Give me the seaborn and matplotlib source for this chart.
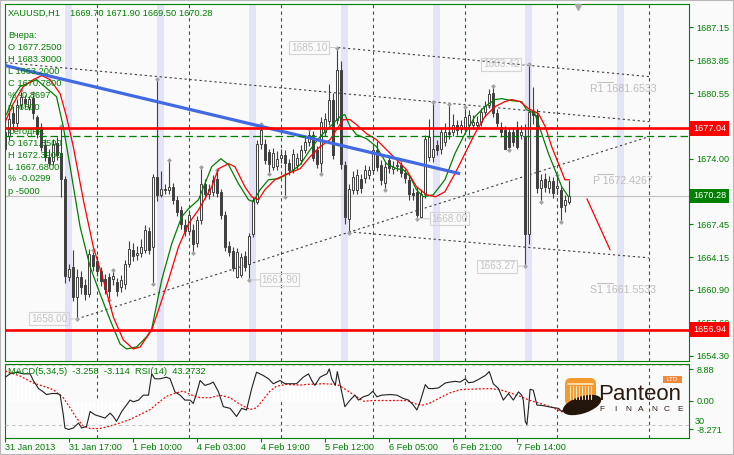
import numpy as np
import pandas as pd
import matplotlib
matplotlib.use("Agg")
import matplotlib.pyplot as plt
from matplotlib.patches import Rectangle, FancyBboxPatch, Ellipse
import seaborn as sns

# ------------------------------------------------------------------ data
open_ = [1675.0, 1676.3, 1678.6, 1677.6, 1679.4, 1680.0, 1679.2, 1680.1, 1678.2, 1677.2,
         1675.4, 1674.2, 1673.8, 1675.6, 1674.6, 1672.0, 1662.2, 1663.2, 1660.2, 1662.2,
         1661.4, 1660.5, 1664.4, 1663.8, 1662.8, 1662.0, 1662.2, 1662.0, 1661.7, 1661.2,
         1661.5, 1663.5, 1664.9, 1664.4, 1664.6, 1664.9, 1666.8, 1665.2, 1672.2, 1670.4,
         1671.0, 1670.9, 1671.2, 1669.9, 1668.9, 1667.4, 1666.8, 1666.9, 1665.6, 1667.9,
         1671.5, 1670.5, 1670.7, 1672.0, 1670.7, 1668.4, 1665.3, 1664.8, 1662.2, 1662.4,
         1664.3, 1663.5, 1666.5, 1669.7, 1675.5, 1675.5, 1674.7, 1673.2, 1673.3, 1674.1,
         1674.4, 1673.6, 1673.0, 1673.4, 1673.9, 1674.9, 1675.7, 1676.4, 1674.9, 1673.6,
         1676.7, 1677.8, 1679.9, 1677.9, 1682.9, 1673.4, 1668.0, 1670.9, 1670.9, 1672.0,
         1672.1, 1672.4, 1672.9, 1674.9, 1673.4, 1671.6, 1673.9, 1673.0, 1673.3, 1673.4,
         1672.6, 1671.9, 1670.6, 1670.7, 1668.2, 1670.5, 1674.2, 1674.2, 1675.4, 1675.0,
         1675.7, 1676.7, 1676.7, 1677.4, 1677.0, 1677.2, 1677.4, 1677.4, 1677.4, 1677.7,
         1678.7, 1679.4, 1680.6, 1678.6, 1677.2, 1676.9, 1676.7, 1676.7, 1677.0, 1676.4,
         1676.2, 1666.5, 1678.8, 1678.4, 1671.1, 1672.0, 1671.1, 1671.8, 1671.1, 1670.9,
         1669.4, 1669.70]
high = [1678.2, 1678.7, 1679.3, 1680.0, 1680.9, 1680.4, 1680.3, 1680.6, 1678.4, 1677.6,
        1676.0, 1675.0, 1676.0, 1676.2, 1677.3, 1672.3, 1663.5, 1664.9, 1663.0, 1662.8,
        1662.0, 1665.0, 1664.9, 1664.3, 1663.2, 1662.5, 1662.6, 1662.9, 1662.1, 1662.4,
        1663.9, 1665.8, 1665.6, 1665.3, 1666.0, 1667.4, 1667.2, 1672.5, 1682.0, 1672.8,
        1671.5, 1673.9, 1671.6, 1670.3, 1669.3, 1668.0, 1668.9, 1667.5, 1668.3, 1673.2,
        1672.0, 1671.5, 1672.4, 1672.9, 1671.0, 1668.8, 1665.8, 1665.2, 1665.1, 1664.6,
        1664.8, 1666.6, 1670.2, 1675.9, 1677.5, 1676.0, 1675.0, 1675.1, 1674.8, 1675.0,
        1674.9, 1674.0, 1675.0, 1674.6, 1675.4, 1676.2, 1677.0, 1676.8, 1675.3, 1678.2,
        1678.6, 1681.5, 1680.6, 1685.1, 1683.8, 1673.8, 1671.5, 1672.8, 1673.0, 1672.5,
        1673.4, 1673.3, 1675.3, 1675.8, 1673.9, 1673.7, 1674.4, 1673.8, 1673.8, 1673.9,
        1673.0, 1672.3, 1671.1, 1671.2, 1671.0, 1676.4, 1678.0, 1679.7, 1675.9, 1677.2,
        1677.6, 1679.5, 1678.5, 1677.9, 1677.9, 1679.2, 1678.9, 1678.4, 1678.3, 1679.1,
        1679.8, 1681.0, 1681.3, 1679.0, 1677.7, 1677.3, 1677.1, 1677.2, 1677.8, 1677.4,
        1677.5, 1683.42, 1681.2, 1679.0, 1672.5, 1672.6, 1672.3, 1672.2, 1672.39, 1671.2,
        1670.4, 1671.90]
low = [1674.9, 1675.9, 1676.8, 1677.2, 1679.0, 1679.1, 1678.9, 1678.0, 1676.1, 1674.8,
       1673.8, 1673.3, 1673.4, 1673.9, 1670.2, 1661.6, 1661.8, 1659.8, 1658.0, 1660.5,
       1659.9, 1660.2, 1662.8, 1662.3, 1661.3, 1660.5, 1659.9, 1661.4, 1660.3, 1660.7,
       1661.0, 1663.2, 1663.8, 1663.9, 1664.2, 1664.6, 1664.5, 1661.5, 1669.8, 1670.2,
       1670.5, 1670.5, 1669.5, 1668.3, 1667.0, 1666.3, 1666.4, 1664.6, 1665.2, 1667.5,
       1670.0, 1670.0, 1670.3, 1670.2, 1668.0, 1664.8, 1664.3, 1662.8, 1662.1, 1662.2,
       1662.8, 1661.9, 1666.2, 1669.5, 1675.0, 1673.5, 1672.5, 1672.9, 1672.9, 1673.6,
       1670.2, 1672.4, 1672.6, 1673.0, 1673.5, 1674.6, 1675.3, 1673.8, 1673.1, 1672.5,
       1676.3, 1677.4, 1674.0, 1677.5, 1673.0, 1667.5, 1666.6, 1670.5, 1670.5, 1670.6,
       1671.6, 1672.0, 1672.5, 1672.8, 1671.4, 1670.9, 1672.6, 1672.5, 1672.8, 1672.2,
       1671.6, 1669.9, 1669.9, 1668.0, 1668.1, 1670.1, 1673.8, 1673.7, 1674.4, 1674.5,
       1675.3, 1676.0, 1676.3, 1676.4, 1676.6, 1676.8, 1676.2, 1677.0, 1677.0, 1677.3,
       1678.3, 1679.1, 1678.2, 1677.2, 1676.2, 1675.0, 1674.9, 1675.3, 1675.0, 1676.0,
       1663.27, 1665.5, 1677.5, 1670.6, 1669.7, 1670.7, 1670.6, 1670.1, 1670.5, 1667.68,
       1668.7, 1669.50]
close = [1676.7, 1678.0, 1677.6, 1679.4, 1680.2, 1679.6, 1680.0, 1678.6, 1676.5, 1675.2,
         1674.2, 1673.6, 1675.5, 1674.4, 1672.0, 1662.3, 1663.0, 1660.2, 1662.2, 1661.2,
         1660.5, 1664.5, 1663.3, 1662.8, 1661.8, 1661.0, 1660.8, 1662.3, 1660.8, 1661.9,
         1663.5, 1665.0, 1664.3, 1664.6, 1665.2, 1666.9, 1664.9, 1672.2, 1670.4, 1671.0,
         1670.9, 1671.2, 1669.9, 1668.7, 1667.5, 1666.8, 1668.4, 1665.5, 1667.9, 1671.5,
         1670.5, 1671.0, 1671.9, 1670.6, 1668.4, 1665.2, 1664.7, 1663.1, 1664.7, 1664.2,
         1663.2, 1666.3, 1669.9, 1675.5, 1676.9, 1673.9, 1673.5, 1674.6, 1674.0, 1674.4,
         1673.6, 1672.9, 1674.5, 1674.1, 1674.9, 1675.7, 1676.4, 1674.1, 1673.5, 1677.7,
         1678.0, 1679.9, 1674.4, 1682.9, 1673.5, 1668.2, 1671.0, 1672.2, 1672.4, 1671.1,
         1672.9, 1672.9, 1674.9, 1673.2, 1671.9, 1673.2, 1673.1, 1673.2, 1673.4, 1672.6,
         1672.1, 1670.5, 1670.4, 1668.4, 1670.5, 1676.0, 1676.2, 1675.0, 1674.9, 1676.7,
         1676.7, 1676.5, 1677.4, 1676.9, 1677.4, 1678.2, 1678.4, 1677.7, 1677.7, 1678.7,
         1679.3, 1680.5, 1678.6, 1677.6, 1676.7, 1675.0, 1675.2, 1675.7, 1675.2, 1676.7,
         1666.5, 1678.7, 1678.4, 1671.1, 1671.9, 1671.2, 1671.8, 1670.6, 1671.3, 1669.2,
         1669.9, 1670.28]

time_tick_bars = [0, 16, 32, 48, 64, 80, 96, 112, 128]
time_tick_labels = ["31 Jan 2013", "31 Jan 17:00", "1 Feb 10:00", "4 Feb 03:00",
                    "4 Feb 19:00", "5 Feb 12:00", "6 Feb 05:00", "6 Feb 21:00", "7 Feb 14:00"]
price_ticks = [1687.15, 1683.85, 1680.55, 1677.25, 1674.00, 1670.75,
               1667.45, 1664.15, 1660.90, 1657.60, 1654.30]

frac_up_bars = [4, 7, 14, 22, 27, 38, 41, 49, 53, 64, 76, 83, 99, 107, 111, 115, 122, 131, 138]
frac_dn_bars = [18, 26, 37, 47, 61, 66, 70, 79, 86, 95, 103, 116, 126, 130, 134, 139]

green_bar = [0.3, 2.0, 3.7, 7.8, 12.8, 14.5, 16.2, 18.7, 21.2, 23.7, 26.2, 28.7, 30.3, 32.8, 35.3,
             36.6, 39.1, 41.6, 44.1, 45.8, 48.3, 49.9, 51.6, 53.9, 55.8, 58.3, 60.8, 62.0, 63.7,
             65.8, 68.3, 70.8, 73.7, 76.2, 78.7, 81.2, 83.7, 84.9, 86.2, 87.8, 90.3, 92.8, 95.3,
             97.8, 99.5, 101.2, 102.8, 104.5, 107.0, 109.9, 112.4, 114.9, 117.4, 119.9, 122.4,
             124.1, 126.6, 129.1, 130.3, 132.4, 134.1, 135.8, 137.4, 139.1, 140.8]
green_val = [1678.4, 1680.2, 1681.2, 1681.9, 1680.2, 1677.2, 1673.2, 1667.2, 1663.2, 1660.5,
             1657.9, 1655.5, 1655.0, 1655.2, 1656.2, 1657.0, 1661.9, 1665.5, 1668.2, 1669.0,
             1669.9, 1671.5, 1673.2, 1674.0, 1673.4, 1671.5, 1669.9, 1669.7, 1670.9, 1671.9,
             1672.0, 1672.5, 1673.4, 1674.9, 1676.2, 1677.2, 1678.2, 1678.4, 1677.2, 1676.4,
             1676.0, 1675.2, 1673.5, 1673.0, 1672.9, 1672.2, 1670.9, 1670.2, 1670.4, 1671.9,
             1674.5, 1676.5, 1678.2, 1679.2, 1679.9, 1680.0, 1679.8, 1679.7, 1678.9, 1678.5,
             1676.5, 1674.5, 1672.9, 1671.2, 1670.2]
red_bar = [0, 2.0, 4.5, 7.0, 9.1, 11.2, 13.7, 15.3, 17.0, 19.5, 22.0, 24.5, 27.0, 29.5, 32.0,
           33.7, 36.6, 38.3, 40.8, 43.3, 45.8, 48.3, 49.9, 51.6, 53.3, 55.8, 57.4, 59.9, 61.6,
           63.3, 64.9, 67.4, 69.9, 73.7, 76.2, 78.7, 81.2, 82.8, 84.5, 86.2, 87.8, 90.3, 92.8,
           95.3, 97.8, 100.3, 102.8, 105.3, 107.6, 109.9, 112.4, 114.9, 117.4, 119.9, 122.4,
           124.9, 126.6, 128.7, 130.8, 133.3, 135.0, 136.6, 138.3, 139.9, 141.0]
red_val = [1677.7, 1679.5, 1681.2, 1681.9, 1682.3, 1681.9, 1680.5, 1678.2, 1675.2, 1669.9,
           1665.2, 1661.9, 1658.2, 1655.9, 1655.0, 1655.2, 1656.9, 1658.9, 1661.9, 1665.2,
           1667.5, 1668.9, 1670.0, 1671.2, 1673.0, 1673.5, 1673.2, 1671.2, 1670.2, 1669.9,
           1670.9, 1671.9, 1672.4, 1673.0, 1674.2, 1675.2, 1675.9, 1676.9, 1677.9, 1677.9,
           1677.4, 1676.5, 1675.9, 1674.9, 1673.9, 1672.9, 1671.2, 1670.4, 1670.2, 1670.7,
           1672.5, 1674.5, 1676.5, 1678.2, 1679.2, 1679.7, 1679.9, 1679.7, 1679.0, 1678.5,
           1677.2, 1675.2, 1673.5, 1671.9, 1671.9]

# trend line (blue) and channel lines: (bar0, price0, bar1, price1)
blue_line = (0.0, 1683.3, 113.7, 1672.5)
channel_lines = [(0.0, 1683.6, 160.9, 1677.7),
                 (83.2, 1685.1, 160.9, 1682.2),
                 (17.9, 1658.0, 160.9, 1676.2),
                 (85.9, 1666.7, 160.9, 1664.1)]
projection_line = (145.4, 1670.0, 151.2, 1664.9)

level_red = [1677.04, 1656.94]
level_green_dash = 1676.27
bid_price = 1670.28

pivot_names = ["R1 1681.6533", "P 1672.4267", "S1 1661.5533"]
pivot_vals = [1681.6533, 1672.4267, 1661.5533]

# labelled fractals: (bar, price, text, x-offset px)
frac_labels = [(18, 1658.00, "1658.00", -10), (61, 1661.90, "1661.90", 12),
               (83, 1685.10, "1685.10", -10), (103, 1668.00, "1668.00", 14),
               (130, 1663.27, "1663.27", -10), (131, 1683.42, "1683.42", -10)]

macd_hist = [7.9, 8.0, 8.1, 8.2, 8.2, 8.1, 7.8, 7.4,
             5.5, 4.2, 3.5, 2.9, 2.4, 1.9, 0.5,
             -5.0, -6.0, -6.9, -7.6, -8.3, -8.6, -8.8, -8.6,
             -8.2, -7.8, -7.4, -7.0, -6.6, -6.2, -5.8, -5.4,
             -4.8, -4.0, -3.4, -2.8, -2.2, -1.4, -0.7, 0.2,
             1.0, 1.8, 2.5, 2.7, 2.7, 2.4, 2.0, 1.4,
             1.2, 1.3, 1.6, 1.8, 1.9, 1.9, 1.5, 0.8,
             -0.1, -0.6, -1.1, -1.7, -2.2, -2.6, -2.0, -1.1,
             0.4, 1.6, 2.8, 3.5, 4.1, 4.5, 4.6, 4.4,
             4.1, 4.0, 4.1, 4.3, 4.6, 4.8, 5.0, 5.0,
             5.0, 4.9, 4.8, 4.6, 3.8, 3.0, 2.0, 1.3,
             0.6, 0.4, 0.6, 0.8, 0.8, 0.8, 0.8, 0.8,
             0.6, 0.4, 0.3, 0.2, 0.0, -0.4, -0.9, -1.5,
             -1.4, -0.7, 0.0, 0.4, 1.0, 1.6, 2.2, 2.7,
             3.1, 3.2, 3.3, 3.3, 3.4, 3.4, 3.4, 3.4,
             3.5, 3.6, 3.6, 3.4, 3.0, 2.4, 2.0, 1.7,
             1.2, 0.8, 0.3, -0.2, -0.6, -0.9, -1.2, -1.5,
             -1.7, -1.9, -2.0, -2.2, -2.7, -3.0, -3.258]
sig_bar = [0, 3.7, 7.0, 9.5, 12.0, 14.5, 16.2, 17.8, 19.5, 21.2, 23.7, 26.2, 28.7, 31.2, 33.7,
           36.2, 38.7, 40.3, 42.8, 44.5, 46.2, 48.7, 51.2, 53.7, 56.2, 58.7, 61.2, 62.8, 64.5,
           66.2, 67.8, 70.3, 73.7, 75.4, 79.5, 82.9, 84.5, 87.0, 89.5, 92.0, 96.2, 100.4, 102.9,
           104.5, 106.2, 108.7, 111.2, 113.7, 117.9, 121.2, 123.7, 126.2, 128.7, 131.2, 134.5,
           137.0, 139.1, 141.0]
sig_val = [8.4, 7.0, 5.0, 4.1, 3.1, 0.8, -2.1, -5.0, -7.3, -8.0, -8.0, -7.3, -6.4, -5.4, -4.0,
           -2.6, -0.2, 1.2, 2.2, 2.7, 1.7, 0.8, 0.8, 1.5, 0.8, -1.1, -2.6, -2.1, 0.3, 2.7, 4.1,
           4.6, 4.4, 4.6, 4.8, 4.6, 3.6, 1.7, -0.2, 0.0, 0.0, 0.0, -1.1, -1.3, -0.7, 0.8, 2.2,
           3.1, 3.3, 3.4, 3.1, 2.2, 1.2, 0.0, -1.1, -2.1, -3.2, -3.114]
rsi_bar = [0, 1.2, 2.8, 4.5, 6.2, 7.0, 8.3, 9.5, 10.3, 11.6, 12.8, 13.7, 14.5, 14.9, 15.8, 17.0,
           18.3, 19.1, 20.3, 21.2, 22.4, 23.7, 24.9, 26.2, 27.0, 27.8, 29.1, 30.3, 31.2, 32.0,
           33.3, 34.5, 35.8, 36.6, 37.4, 38.7, 40.3, 41.2, 42.4, 43.7, 44.9, 46.2, 47.0, 47.8,
           48.7, 49.9, 51.2, 52.0, 53.3, 54.5, 56.2, 57.8, 59.1, 60.3, 61.6, 62.8, 64.5, 65.8,
           67.0, 68.7, 69.9, 71.2, 72.8, 74.5, 75.8, 76.6, 77.4, 78.7, 79.5, 80.4, 81.0, 81.6,
           82.5, 83.0, 84.1, 84.9, 86.2, 87.4, 88.3, 89.5, 90.8, 91.9, 92.9, 94.1, 96.2, 97.9,
           99.5, 100.8, 102.0, 102.9, 103.7, 105.0, 105.8, 107.0, 108.3, 110.0, 111.2, 112.5,
           113.7, 115.0, 115.8, 117.0, 118.3, 120.0, 121.0, 122.0, 123.3, 124.5, 125.8, 127.0,
           128.3, 129.1, 129.5, 130.0, 130.4, 130.8, 131.2, 132.0, 132.9, 134.5, 135.8, 137.0,
           138.3, 139.1, 141.0]
rsi_val = [61.9, 64.1, 65.2, 64.1, 64.1, 59.7, 54.3, 52.1, 50.3, 51.0, 51.0, 50.3, 36.8, 28.0,
           27.0, 28.0, 31.3, 28.0, 29.1, 39.0, 36.8, 35.7, 34.6, 37.9, 35.7, 32.4, 39.0, 43.3,
           46.6, 45.5, 46.6, 49.9, 49.9, 64.1, 60.8, 60.8, 61.9, 60.8, 52.1, 49.9, 46.6, 46.6,
           44.4, 51.0, 59.7, 56.4, 57.5, 58.6, 52.1, 42.2, 41.1, 35.7, 41.1, 40.0, 54.3, 65.2,
           63.0, 60.8, 57.5, 59.7, 57.5, 57.5, 57.5, 61.9, 64.1, 59.7, 56.4, 61.9, 63.0, 64.1,
           67.4, 60.8, 56.4, 65.6, 52.1, 42.2, 46.6, 49.9, 46.6, 48.8, 49.9, 52.5, 48.8, 49.9,
           50.3, 49.9, 47.7, 46.6, 43.3, 40.0, 45.5, 56.9, 54.3, 54.3, 54.7, 58.0, 58.6, 59.1,
           58.6, 60.8, 58.2, 58.6, 60.4, 63.0, 65.6, 57.5, 54.3, 46.6, 51.0, 46.6, 52.1, 49.9,
           46.6, 32.4, 30.2, 41.1, 53.8, 53.2, 43.3, 42.9, 42.2, 41.6, 41.1, 39.0, 43.27]

info_lines = ["Вчера:", "O 1677.2500", "H 1683.3000", "L 1663.2000", "C 1670.7800",
              "% -0.8697", "p -6500", "", "Сегодня:", "O 1671.3500", "H 1672.3900",
              "L 1667.6800", "% -0.0299", "p -5000"]

# ------------------------------------------------------------------ style
sns.set_theme(style="white")
plt.rcParams['font.family'] = ['Liberation Sans', 'DejaVu Sans']

GREEN = '#008000'
CANDLE = '#404040'
BG = '#FAFAFA'
W, H = 734, 455

df = pd.DataFrame({"o": open_, "h": high, "l": low, "c": close})
df["bar"] = np.arange(len(df))
assert len(macd_hist) == len(df)

fig = plt.figure(figsize=(W / 100, H / 100), dpi=100)
fig.patch.set_facecolor(BG)


def px_axes(x0, y0, x1, y1, **kw):
    return fig.add_axes([x0 / W, 1 - y1 / H, (x1 - x0) / W, (y1 - y0) / H], **kw)


ax = px_axes(5, 4, 689, 361)
axi = px_axes(5, 364, 689, 438)
XLIM = (-0.075, 170.925)
YLIM = (1653.80, 1689.447)

for a in (ax, axi):
    a.set_facecolor(BG)
    for s in a.spines.values():
        s.set_color(GREEN)
        s.set_linewidth(0.8)

# session bands and vertical grid
for k in range(7):
    c = 15.8 + 23 * k
    ax.axvspan(c - 0.875, c + 0.875, color='#E4E4F8', lw=0, zorder=0.5)
grid_bars = [23, 46, 69, 92, 115, 138, 161]
for g in grid_bars:
    for a in (ax, axi):
        a.axvline(g - 0.05, color=GREEN, lw=0.8, ls=(0, (3, 3)), zorder=0.6)

# bid line
ax.axhline(bid_price, color='#C0C0C0', lw=0.8, zorder=1)

# channel lines
for (b0, p0, b1, p1) in channel_lines:
    ax.plot([b0, b1], [p0, p1], color='#404040', lw=0.8, ls=(0, (2, 2.5)), zorder=1.5)

# candles
ax.vlines(df["bar"], df["l"], df["h"], color=CANDLE, lw=0.8, zorder=2)
body_bottom = np.minimum(df["o"], df["c"])
body_h = np.maximum(np.abs(df["c"] - df["o"]), 0.08)
face = ['white' if c >= o else CANDLE for o, c in zip(df["o"], df["c"])]
ax.bar(df["bar"], body_h, bottom=body_bottom, width=0.55, color=face,
       edgecolor=CANDLE, linewidth=0.7, zorder=2.1)

# fractals
ax.scatter(frac_up_bars, [high[b] for b in frac_up_bars], marker='D', s=6,
           color='#A0A0A0', zorder=2.2, linewidths=0)
ax.scatter(frac_dn_bars, [low[b] for b in frac_dn_bars], marker='D', s=6,
           color='#A0A0A0', zorder=2.2, linewidths=0)

# moving averages (seaborn)
sns.lineplot(x=green_bar, y=green_val, ax=ax, color='#008000', linewidth=0.9,
             estimator=None, sort=False, legend=False, zorder=3)
sns.lineplot(x=red_bar, y=red_val, ax=ax, color='#FF0000', linewidth=0.9,
             estimator=None, sort=False, legend=False, zorder=3)

# blue trend line
ax.plot([blue_line[0], blue_line[2]], [blue_line[1], blue_line[3]],
        color='#4169E1', lw=2.3, zorder=3.1, solid_capstyle='butt')

# projection line
ax.plot([projection_line[0], projection_line[2]], [projection_line[1], projection_line[3]],
        color='#FF0000', lw=0.9, zorder=3.1)

# horizontal levels
for lv in level_red:
    ax.axhline(lv, color='#FF0000', lw=1.9, zorder=3.5)
ax.axhline(level_green_dash, color=GREEN, lw=0.9, ls=(0, (6, 3)), zorder=3.4)

# pivot labels
for name, val in zip(pivot_names, pivot_vals):
    ax.plot([147.9, 151.9], [val, val], color='#C0C0C0', lw=0.8, zorder=1.2)
    ax.annotate(name, xy=(154.4, val), xytext=(0, -7), textcoords='offset pixels',
                ha='center', va='center', fontsize=7.7, color='#BDBDBD', zorder=1.3)

# fractal price labels
for b, p, t, off in frac_labels:
    ax.annotate(t, xy=(b, p), xytext=(off, 0), textcoords='offset pixels',
                ha='right' if off < 0 else 'left', va='center', fontsize=7.2,
                color='#C4C4C4', zorder=4,
                bbox=dict(boxstyle='square,pad=0.15', fc='none', ec='#D4D4D4', lw=0.8),
                arrowprops=dict(arrowstyle='-', color='#C8C8C8', lw=0.7,
                                shrinkA=0, shrinkB=0))

# chart shift marker
ax.plot([143.2], [1689.15], marker='v', ms=5, color='#A8A8A8', clip_on=False, zorder=5)

# axes / ticks main
ax.set_xlim(*XLIM)
ax.set_ylim(*YLIM)
ax.set_xticks([])
ax.set_xlabel('')
ax.set_ylabel('')
ax.set_yticks(price_ticks)
ax.set_yticklabels([f"{t:.2f}" for t in price_ticks])
ax.tick_params(axis='y', which='both', left=False, right=True, labelleft=False,
               labelright=True, colors=GREEN, labelcolor=GREEN, length=3, width=0.8,
               pad=2.5, labelsize=6.6, direction='out')

# price boxes on the right
for val, col in [(level_red[0], '#FF0000'), (bid_price, '#008000'), (level_red[1], '#FF0000')]:
    ax.annotate(f"{val:.2f}", xy=(1, val), xycoords=('axes fraction', 'data'),
                xytext=(4, 0), textcoords='offset pixels', ha='left', va='center',
                fontsize=6.6, color='white', annotation_clip=False, zorder=10,
                bbox=dict(boxstyle='square,pad=0.32', fc=col, ec='none'))

# ------------------------------------------------------------------ indicator panel
MACD_LIM = (-10.71, 10.43)
RSI_LIM = (21.33, 70.67)
axi.bar(df["bar"], macd_hist, width=0.28, color='#C0C0C0', zorder=1)
sns.lineplot(x=sig_bar, y=sig_val, ax=axi, color='#FF0000', linewidth=0.9,
             linestyle=(0, (1.5, 1.5)), estimator=None, sort=False, legend=False, zorder=2)

axr = axi.twinx()
axr.set_axis_off()
axr.axhline(70, color='#C4C4C4', lw=0.8, ls=(0, (3, 3)), zorder=1)
axr.axhline(30, color='#C4C4C4', lw=0.8, ls=(0, (3, 3)), zorder=1)
sns.lineplot(x=rsi_bar, y=rsi_val, ax=axr, color='#202020', linewidth=0.8,
             estimator=None, sort=False, legend=False, zorder=3)
axr.set_xlim(*XLIM)
axr.set_ylim(*RSI_LIM)

axi.set_xlim(*XLIM)
axi.set_ylim(*MACD_LIM)
axi.set_xlabel('')
axi.set_ylabel('')
axi.set_xticks(time_tick_bars)
axi.set_xticklabels(time_tick_labels)
for lbl in axi.get_xticklabels():
    lbl.set_ha('left')
axi.tick_params(axis='x', bottom=True, labelbottom=True, length=3, width=0.8,
                colors=GREEN, labelcolor=GREEN, labelsize=6.6, pad=0.5, direction='out')
axi.yaxis.set_ticks_position('right')
axi.set_yticks([8.88, 0.0, -8.271])
axi.set_yticklabels(['8.88', '0.00', '-8.271'])
axi.tick_params(axis='y', left=False, right=True, labelleft=False, labelright=True,
                length=3, width=0.8, colors=GREEN, labelcolor=GREEN, labelsize=6.6, pad=2.5)
fig.text(695 / W, 1 - 422 / H, "30", color=GREEN, fontsize=6.6, va='center', ha='left')

# ------------------------------------------------------------------ texts
def ftext(x, y, s, **kw):
    fig.text(x / W, 1 - y / H, s, va='center', ha='left', **kw)


ftext(8, 13, "XAUUSD,H1", color=GREEN, fontsize=6.7)
ftext(70, 13, "1669.70 1671.90 1669.50 1670.28", color=GREEN, fontsize=6.7)
for n, s in enumerate(info_lines):
    if s:
        ftext(8, 35 + 12 * n, s, color=GREEN, fontsize=6.7, zorder=6)
ftext(8, 372, "MACD(5,34,5)  -3.258  -3.114  RSI(14)  43.2732", color=GREEN, fontsize=6.7)

# ------------------------------------------------------------------ logo
lg = px_axes(560, 374, 688, 420)
lg.set_xlim(0, 128)
lg.set_ylim(46, 0)
lg.set_axis_off()
lg.add_patch(FancyBboxPatch((5, 4), 31, 28, boxstyle='round,pad=0,rounding_size=6',
                            fc='#F39A2E', ec='none'))
for xx in np.linspace(10, 31, 8):
    lg.plot([xx, xx], [12, 25], color='#FFE6C0', lw=0.8)
lg.plot([8, 33], [10, 10], color='#FFE6C0', lw=1.2)
lg.add_patch(Ellipse((22, 31), 40, 17, angle=-18, fc='#24150B', ec='none'))
lg.text(38, 20, "Panteon", fontsize=16, color='#2B1B10', va='center', ha='left')
for k, ch in enumerate("FINANCE"):
    lg.text(42 + k * 13, 35.5, ch, fontsize=6, color='#2B1B10', va='center', ha='center')
lg.add_patch(Rectangle((103, 2), 19, 7, fc='#F0883A', ec='none'))
lg.text(112.5, 5.6, "LTD", fontsize=4.5, color='white', va='center', ha='center')

# outer frame
fig.patches.append(Rectangle((0, 0), 1, 1, transform=fig.transFigure, fill=False,
                             ec='#B8B8B8', lw=1.5))

fig.savefig("out.png", dpi=100, facecolor=fig.get_facecolor())
